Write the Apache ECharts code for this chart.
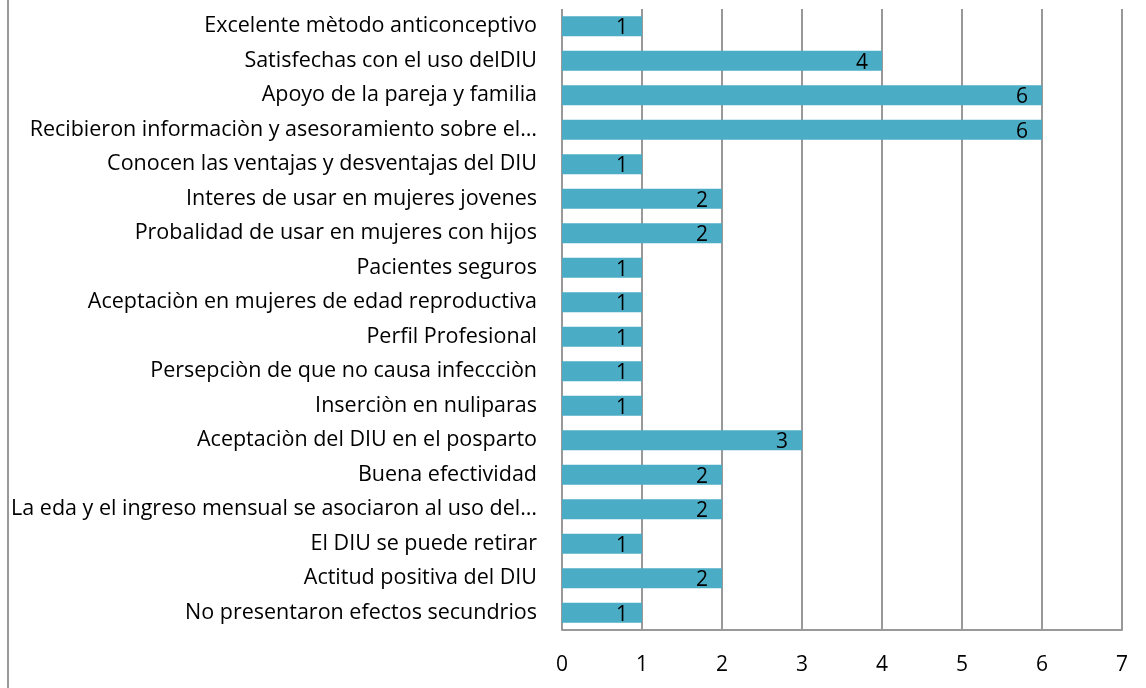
<!DOCTYPE html>
<html><head><meta charset="utf-8">
<script src="https://cdn.jsdelivr.net/npm/echarts@6/dist/echarts.min.js"></script>
<style>html,body{margin:0;padding:0;background:#fff}#c{width:1146px;height:688px}</style>
</head><body><div id="c"></div>
<script>
const categories = [
  "Excelente mètodo anticonceptivo",
  "Satisfechas con el uso delDIU",
  "Apoyo de la pareja y familia",
  "Recibieron informaciòn y asesoramiento sobre el…",
  "Conocen las ventajas y desventajas del DIU",
  "Interes de usar en mujeres jovenes",
  "Probalidad de usar en mujeres con hijos",
  "Pacientes seguros",
  "Aceptaciòn en mujeres de edad reproductiva",
  "Perfil Profesional",
  "Persepciòn de que no causa infeccciòn",
  "Inserciòn en nuliparas",
  "Aceptaciòn del DIU en el posparto",
  "Buena efectividad",
  "La eda y el ingreso mensual se asociaron al uso del…",
  "El DIU se puede retirar",
  "Actitud positiva del DIU",
  "No presentaron efectos secundrios"
];
const values = [1,4,6,6,1,2,2,1,1,1,1,1,3,2,2,1,2,1];
const xTicks = [0,1,2,3,4,5,6,7];

const chart = echarts.init(document.getElementById('c'));
const font = '"Open Sans", sans-serif';
chart.setOption({
  animation:false,
  grid:{left:562,right:24,top:9,bottom:58,containLabel:false},
  xAxis:{type:'value',min:0,max:7,interval:1,
    axisLine:{show:true,lineStyle:{color:'#999',width:2}},
    axisTick:{show:false},
    splitLine:{show:true,lineStyle:{color:'#999',width:2}},
    axisLabel:{color:'#000',fontSize:21,fontFamily:font,margin:25,
      formatter:v=>xTicks.includes(v)?String(v):''}},
  yAxis:{type:'category',data:categories,inverse:true,
    axisLine:{show:false},axisTick:{show:false},
    axisLabel:{color:'#000',fontSize:21.5,fontFamily:font,margin:25,padding:[3,0,0,0]}},
  graphic:[{type:'line',shape:{x1:8,y1:0,x2:8,y2:688},style:{stroke:'#999',lineWidth:2}}],
  series:[{type:'bar',data:values,barWidth:20,
    itemStyle:{color:'#4BACC6'},
    label:{show:true,position:'insideRight',color:'#000',fontSize:21,fontFamily:font,offset:[0,2],distance:14}}]
});
</script></body></html>
